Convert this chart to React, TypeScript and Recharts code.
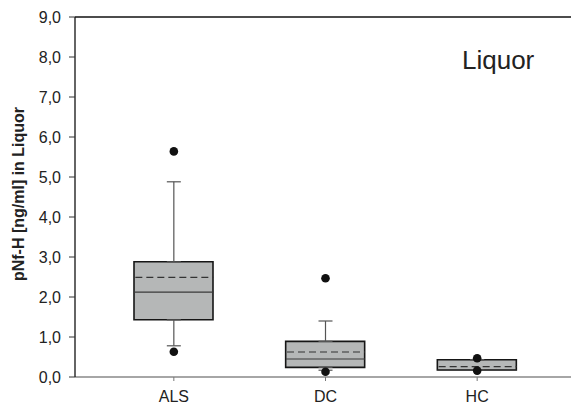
import React from 'react';
import { ComposedChart, Bar, Scatter, XAxis, YAxis, ErrorBar, ReferenceLine } from 'recharts';

const categories = ['ALS', 'DC', 'HC'];
const whiskerLow = [0.78, 0.17, 0.175];
const q1 = [1.43, 0.24, 0.175];
const median = [2.12, 0.45, 0.175];
const mean = [2.49, 0.625, 0.26];
const q3 = [2.88, 0.89, 0.43];
const whiskerHigh = [4.88, 1.4, 0.43];
const outlierHigh = [5.64, 2.47, 0.47];
const outlierLow = [0.63, 0.13, 0.16];
const yTicks = [0, 1, 2, 3, 4, 5, 6, 7, 8, 9];

const data = categories.map((name, i) => ({
  name,
  box: [q1[i], q3[i]],
  q1: q1[i],
  q3: q3[i],
  median: median[i],
  mean: mean[i],
  upErr: [0, whiskerHigh[i] - q3[i]],
  loErr: [q1[i] - whiskerLow[i], 0],
  outHi: outlierHigh[i],
  outLo: outlierLow[i],
}));

const BOX_W = 79;
const FONT = '"Liberation Sans", Arial, sans-serif';

const MedianLine = (p: any) => (
  <line x1={p.cx - BOX_W / 2} x2={p.cx + BOX_W / 2} y1={p.cy} y2={p.cy} stroke="#3a3a3a" strokeWidth={1.2} />
);
const MeanLine = (p: any) => (
  <line x1={p.cx - BOX_W / 2 + 1} x2={p.cx + BOX_W / 2} y1={p.cy} y2={p.cy} stroke="#333" strokeWidth={1.2} strokeDasharray="7 4" />
);
const Empty = () => <g />;
const Dot = (p: any) => <circle cx={p.cx} cy={p.cy} r={4.3} fill="#111" />;

const YLabel = (props: any) => {
  const vb = props.viewBox || {};
  const x = (vb.x || 0) + 18;
  const y = (vb.y || 0) + (vb.height || 0) / 2 - 3;
  return (
    <text x={x} y={y} transform={`rotate(-90, ${x}, ${y})`} textAnchor="middle" dominantBaseline="central"
      fontFamily={FONT} fontWeight="bold" fontSize={16} fill="#222">
      pNf-H [ng/ml] in Liquor
    </text>
  );
};

export default function App() {
  return (
    <div style={{ position: 'absolute', left: 0, top: 0, width: 571, height: 405, background: '#fff' }}>
      <ComposedChart width={571} height={405} data={data} margin={{ top: 17, right: 0, bottom: 0, left: 0 }}>
        <XAxis
          dataKey="name"
          height={28}
          padding={{ left: 23, right: 18 }}
          axisLine={{ stroke: '#888', strokeWidth: 1.5 }}
          tickLine={{ stroke: '#777' }}
          tickSize={4}
          tickMargin={10}
          tick={{ fill: '#222', fontSize: 16, fontFamily: FONT }}
        />
        <YAxis
          width={75}
          domain={[0, 9]}
          ticks={yTicks}
          type="number"
          allowDataOverflow
          axisLine={{ stroke: '#111', strokeWidth: 1.3 }}
          tickLine={{ stroke: '#333' }}
          tickSize={6}
          tickMargin={8}
          tick={{ fill: '#222', fontSize: 16, fontFamily: FONT }}
          tickFormatter={(v: number) => v.toFixed(1).replace('.', ',')}
          label={{ content: YLabel }}
        />
        <ReferenceLine y={9} stroke="#111" strokeWidth={1.5} />
        <Scatter dataKey="q3" shape={Empty} isAnimationActive={false}>
          <ErrorBar dataKey="upErr" direction="y" width={7} stroke="#555" strokeWidth={1.2} />
        </Scatter>
        <Scatter dataKey="q1" shape={Empty} isAnimationActive={false}>
          <ErrorBar dataKey="loErr" direction="y" width={7} stroke="#555" strokeWidth={1.2} />
        </Scatter>
        <Bar dataKey="box" barSize={BOX_W} fill="#b5b7b7" stroke="#161616" strokeWidth={1.6} isAnimationActive={false} />
        <Scatter dataKey="median" shape={MedianLine} isAnimationActive={false} />
        <Scatter dataKey="mean" shape={MeanLine} isAnimationActive={false} />
        <Scatter dataKey="outHi" shape={Dot} isAnimationActive={false} />
        <Scatter dataKey="outLo" shape={Dot} isAnimationActive={false} />
      </ComposedChart>
      <div style={{ position: 'absolute', left: 462, top: 47, fontFamily: FONT, fontSize: 26, lineHeight: 1, color: '#222' }}>
        Liquor
      </div>
    </div>
  );
}
